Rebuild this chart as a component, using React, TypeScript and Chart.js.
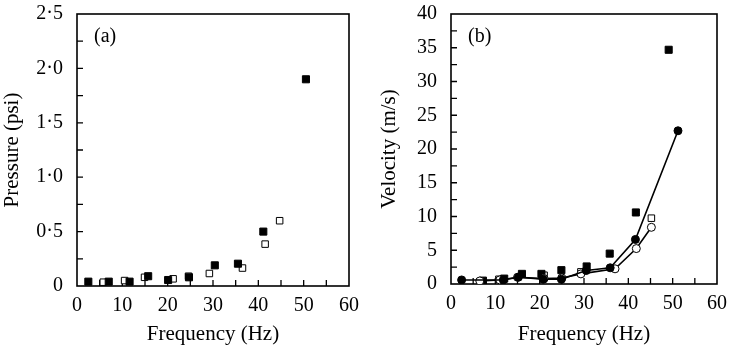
import React, { useEffect, useRef } from "react";
import { Chart, registerables } from "chart.js";
Chart.register(...registerables);

const FONT = "'Liberation Serif', 'Times New Roman', serif";

// Panel (a): Pressure (psi) vs Frequency (Hz)
const pressureFilledFreq = [2.5, 7.0, 11.6, 15.7, 20.1, 24.7, 30.4, 35.5, 41.1, 50.5];
const pressureFilled = [0.04, 0.04, 0.04, 0.09, 0.055, 0.08, 0.19, 0.205, 0.5, 1.9];
const pressureOpenFreq = [5.8, 10.5, 14.9, 21.2, 24.6, 29.2, 36.5, 41.5, 44.7];
const pressureOpen = [0.035, 0.05, 0.08, 0.066, 0.09, 0.115, 0.165, 0.385, 0.6];

// Panel (b): Velocity (m/s) vs Frequency (Hz)
const velFilledCircleFreq = [2.4, 11.8, 15.2, 20.8, 24.9, 30.5, 35.9, 41.6, 51.2];
const velFilledCircle = [0.6, 0.6, 1.0, 0.7, 0.7, 2.0, 2.4, 6.6, 22.7];
const velOpenCircleFreq = [6.5, 11.0, 15.0, 21.0, 25.0, 29.3, 37.0, 41.8, 45.2];
const velOpenCircle = [0.45, 0.6, 1.0, 0.8, 0.9, 1.5, 2.25, 5.25, 8.4];
const velFilledSquareFreq = [7.2, 12.0, 16.0, 20.4, 24.9, 30.6, 35.8, 41.7, 49.1];
const velFilledSquare = [0.5, 0.8, 1.5, 1.5, 2.05, 2.6, 4.5, 10.6, 34.7];
const velOpenSquareFreq = [10.8, 21.0, 29.3, 45.2];
const velOpenSquare = [0.7, 1.3, 1.8, 9.75];

const FREQ_MIN = 0;
const FREQ_MAX = 60;
const FREQ_STEP = 10;
const FREQ_MINOR = 5;
const PRESSURE_MAX = 2.5;
const PRESSURE_STEP = 0.5;
const PRESSURE_MINOR = 0.25;
const VELOCITY_MAX = 40;
const VELOCITY_STEP = 5;
const VELOCITY_MINOR = 2.5;

const zip = (xs: number[], ys: number[]) => xs.map((x, i) => ({ x, y: ys[i] }));

const framePlugin = {
  id: "frame",
  beforeDatasetsDraw(chart: any, _args: any, opts: any) {
    const { ctx, chartArea: a, scales } = chart;
    ctx.save();
    ctx.strokeStyle = "#000";
    ctx.lineWidth = 1.6;
    ctx.strokeRect(a.left, a.top, a.right - a.left, a.bottom - a.top);
    ctx.lineWidth = 1.3;
    const xs = scales.x;
    const ys = scales.y;
    ctx.beginPath();
    for (let v = xs.min + opts.xMinor; v < xs.max - 1e-9; v += opts.xMinor) {
      const px = xs.getPixelForValue(v);
      ctx.moveTo(px, a.bottom);
      ctx.lineTo(px, a.bottom - 6);
    }
    for (let v = ys.min + opts.yMinor; v < ys.max - 1e-9; v += opts.yMinor) {
      const py = ys.getPixelForValue(v);
      ctx.moveTo(a.left, py);
      ctx.lineTo(a.left + 6, py);
    }
    ctx.stroke();
    ctx.fillStyle = "#000";
    ctx.font = `20px ${FONT}`;
    ctx.textBaseline = "alphabetic";
    ctx.fillText(opts.label, a.left + 17, a.top + 28);
    ctx.restore();
  },
};

function makeOptions(p: {
  yMax: number;
  yStep: number;
  yFmt: (v: number) => string;
  yTitle: string;
  yWidth: number;
  xHeight: number;
  rightPad: number;
  yTitlePad: number;
  xMinor: number;
  yMinor: number;
  label: string;
}): any {
  const tickFont = { family: FONT, size: 20 };
  const titleFont = { family: FONT, size: 21 };
  return {
    responsive: false,
    animation: false,
    events: [],
    layout: { padding: { top: 0, right: p.rightPad, left: 0, bottom: 0 } },
    plugins: {
      legend: { display: false },
      tooltip: { enabled: false },
      frame: { xMinor: p.xMinor, yMinor: p.yMinor, label: p.label },
    },
    scales: {
      x: {
        type: "linear",
        min: FREQ_MIN,
        max: FREQ_MAX,
        grid: { display: false, drawTicks: false },
        border: { display: false },
        ticks: {
          stepSize: FREQ_STEP,
          font: tickFont,
          color: "#000",
          padding: 8,
          maxRotation: 0,
        },
        title: {
          display: true,
          text: "Frequency (Hz)",
          font: titleFont,
          color: "#000",
          padding: { top: 6, bottom: 6 },
        },
        afterFit: (s: any) => {
          s.height = p.xHeight;
        },
      },
      y: {
        type: "linear",
        min: 0,
        max: p.yMax,
        grid: { display: false, drawTicks: false },
        border: { display: false },
        ticks: {
          stepSize: p.yStep,
          font: tickFont,
          color: "#000",
          padding: 14,
          callback: (v: any) => p.yFmt(Number(v)),
        },
        title: {
          display: true,
          text: p.yTitle,
          font: titleFont,
          color: "#000",
          padding: { top: p.yTitlePad, bottom: 0 },
        },
        afterFit: (s: any) => {
          s.width = p.yWidth;
        },
      },
    },
  };
}

const filledSquare = {
  pointStyle: "rect",
  pointRadius: 5,
  backgroundColor: "#000",
  borderColor: "#000",
  pointBorderWidth: 1,
  showLine: false,
};
const openSquare = {
  pointStyle: "rect",
  pointRadius: 4.6,
  backgroundColor: "#fff",
  borderColor: "#000",
  pointBorderWidth: 1,
  showLine: false,
};
const filledCircleLine = {
  pointStyle: "circle",
  pointRadius: 4,
  backgroundColor: "#000",
  borderColor: "#000",
  pointBorderWidth: 1,
  borderWidth: 1.6,
  showLine: true,
};
const openCircleLine = {
  pointStyle: "circle",
  pointRadius: 4,
  backgroundColor: "#fff",
  borderColor: "#000",
  pointBorderWidth: 1,
  borderWidth: 1.6,
  showLine: true,
};

const CANVAS_TOP = -12;
const CANVAS_H = 365;

function ChartCanvas({ config, width, left }: any) {
  const ref = useRef<HTMLCanvasElement | null>(null);
  useEffect(() => {
    if (!ref.current) return;
    const chart = new Chart(ref.current, config);
    return () => chart.destroy();
  }, []);
  return (
    <canvas
      ref={ref}
      width={width}
      height={CANVAS_H}
      style={{ position: "absolute", left, top: CANVAS_TOP, width, height: CANVAS_H }}
    />
  );
}

export default function App() {
  const configA: any = {
    type: "scatter",
    data: {
      datasets: [
        { ...filledSquare, data: zip(pressureFilledFreq, pressureFilled) },
        { ...openSquare, data: zip(pressureOpenFreq, pressureOpen) },
      ],
    },
    options: makeOptions({
      yMax: PRESSURE_MAX,
      yStep: PRESSURE_STEP,
      yFmt: (v) => (v === 0 ? "0" : v.toFixed(1).replace(".", "·")),
      yTitle: "Pressure (psi)",
      yWidth: 77,
      xHeight: 67,
      rightPad: 17,
      yTitlePad: 0,
      xMinor: FREQ_MINOR,
      yMinor: PRESSURE_MINOR,
      label: "(a)",
    }),
    plugins: [framePlugin],
  };
  const configB: any = {
    type: "scatter",
    data: {
      datasets: [
        { ...filledCircleLine, data: zip(velFilledCircleFreq, velFilledCircle) },
        { ...openCircleLine, data: zip(velOpenCircleFreq, velOpenCircle) },
        { ...filledSquare, data: zip(velFilledSquareFreq, velFilledSquare) },
        { ...openSquare, data: zip(velOpenSquareFreq, velOpenSquare) },
      ],
    },
    options: makeOptions({
      yMax: VELOCITY_MAX,
      yStep: VELOCITY_STEP,
      yFmt: (v) => String(v),
      yTitle: "Velocity (m/s)",
      yWidth: 84,
      xHeight: 69,
      rightPad: 13,
      yTitlePad: 10,
      xMinor: FREQ_MINOR,
      yMinor: VELOCITY_MINOR,
      label: "(b)",
    }),
    plugins: [framePlugin],
  };
  return (
    <div
      style={{
        position: "fixed",
        left: 0,
        top: 0,
        width: 735,
        height: 353,
        background: "#fff",
        overflow: "hidden",
      }}
    >
      <ChartCanvas config={configA} width={367} left={0} />
      <ChartCanvas config={configB} width={368} left={367} />
    </div>
  );
}
